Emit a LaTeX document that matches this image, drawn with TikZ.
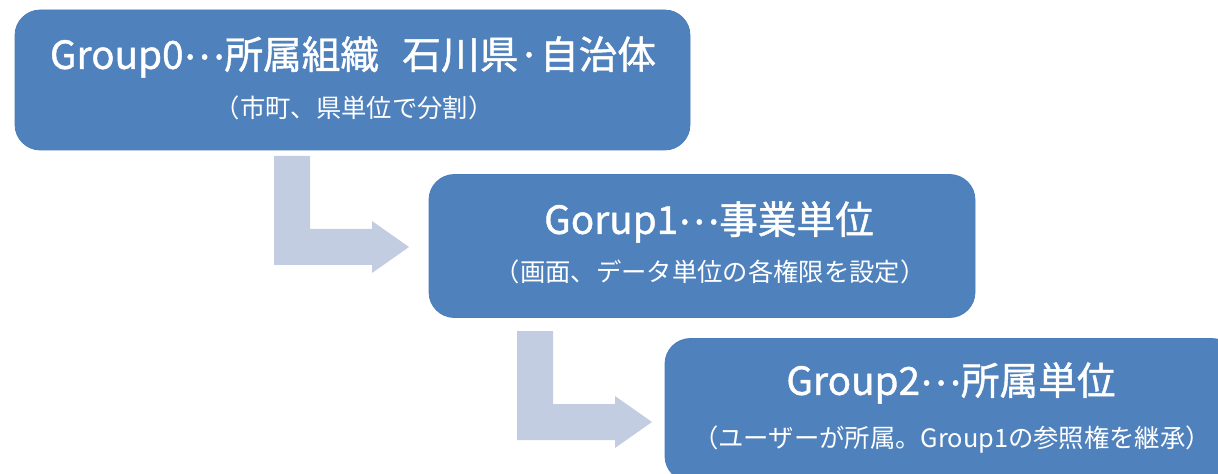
\documentclass[tikz,border=0pt]{standalone}
\usepackage{fontspec}
\setmainfont{Noto Sans CJK JP}
\newfontfamily\titlefont[FakeBold=1.1]{Noto Sans CJK JP}
\newcommand{\midell}{\raisebox{0.25em}{…}}
\definecolor{boxblue}{HTML}{4F81BD}
\definecolor{boxedge}{HTML}{4A7EBB}
\definecolor{arrowc}{HTML}{C3CDE2}
\begin{document}
\begin{tikzpicture}[x=0.75pt,y=-0.75pt,
  groupbox/.style={draw=boxedge,line width=0.6pt,fill=boxblue,rounded corners=19pt,inner sep=0pt},
  titletext/.style={text=white,inner sep=0pt,font=\titlefont\fontsize{29}{33}\selectfont},
  subtext/.style={text=white,inner sep=0pt,font=\fontsize{19}{22}\selectfont},
  bentarrow/.style={fill=arrowc,draw=none}]
\useasboundingbox (0,0) rectangle (1218,474);
\clip (0,0) rectangle (1218,474);
% boxes
\node[groupbox,minimum width=506.25pt,minimum height=105pt] (g0) at (352.5,80) {};
\node[groupbox,minimum width=409.5pt,minimum height=107.25pt] (g1) at (702,246) {};
\node[groupbox,minimum width=429pt,minimum height=107.25pt] (g2) at (951,410) {};
% texts
\node[titletext] (t0) at (353,57) {Group0\midell 所属組織\hspace{0.6em}石川県·自治体};
\node[subtext] (s0) at (354,108) {（市町、県単位で分割）};
\node[titletext] (t1) at (709,222) {Gorup1\midell 事業単位};
\node[subtext] (s1) at (710,272) {（画面、データ単位の各権限を設定）};
\node[titletext] (t2) at (951,383) {Group2\midell 所属単位};
\node[subtext] (s2) at (952,440) {（ユーザーが所属。Group1の参照権を継承）};
% bent arrows
\fill[bentarrow] (274,156) -- (310,156) -- (310,229) -- (372,229) -- (372,221) -- (409,247) -- (372,273) -- (372,265) -- (274,265) -- cycle;
\fill[bentarrow] (517,331) -- (553,331) -- (553,404) -- (615,404) -- (615,396) -- (652,422) -- (615,448) -- (615,440) -- (517,440) -- cycle;
\end{tikzpicture}
\end{document}
